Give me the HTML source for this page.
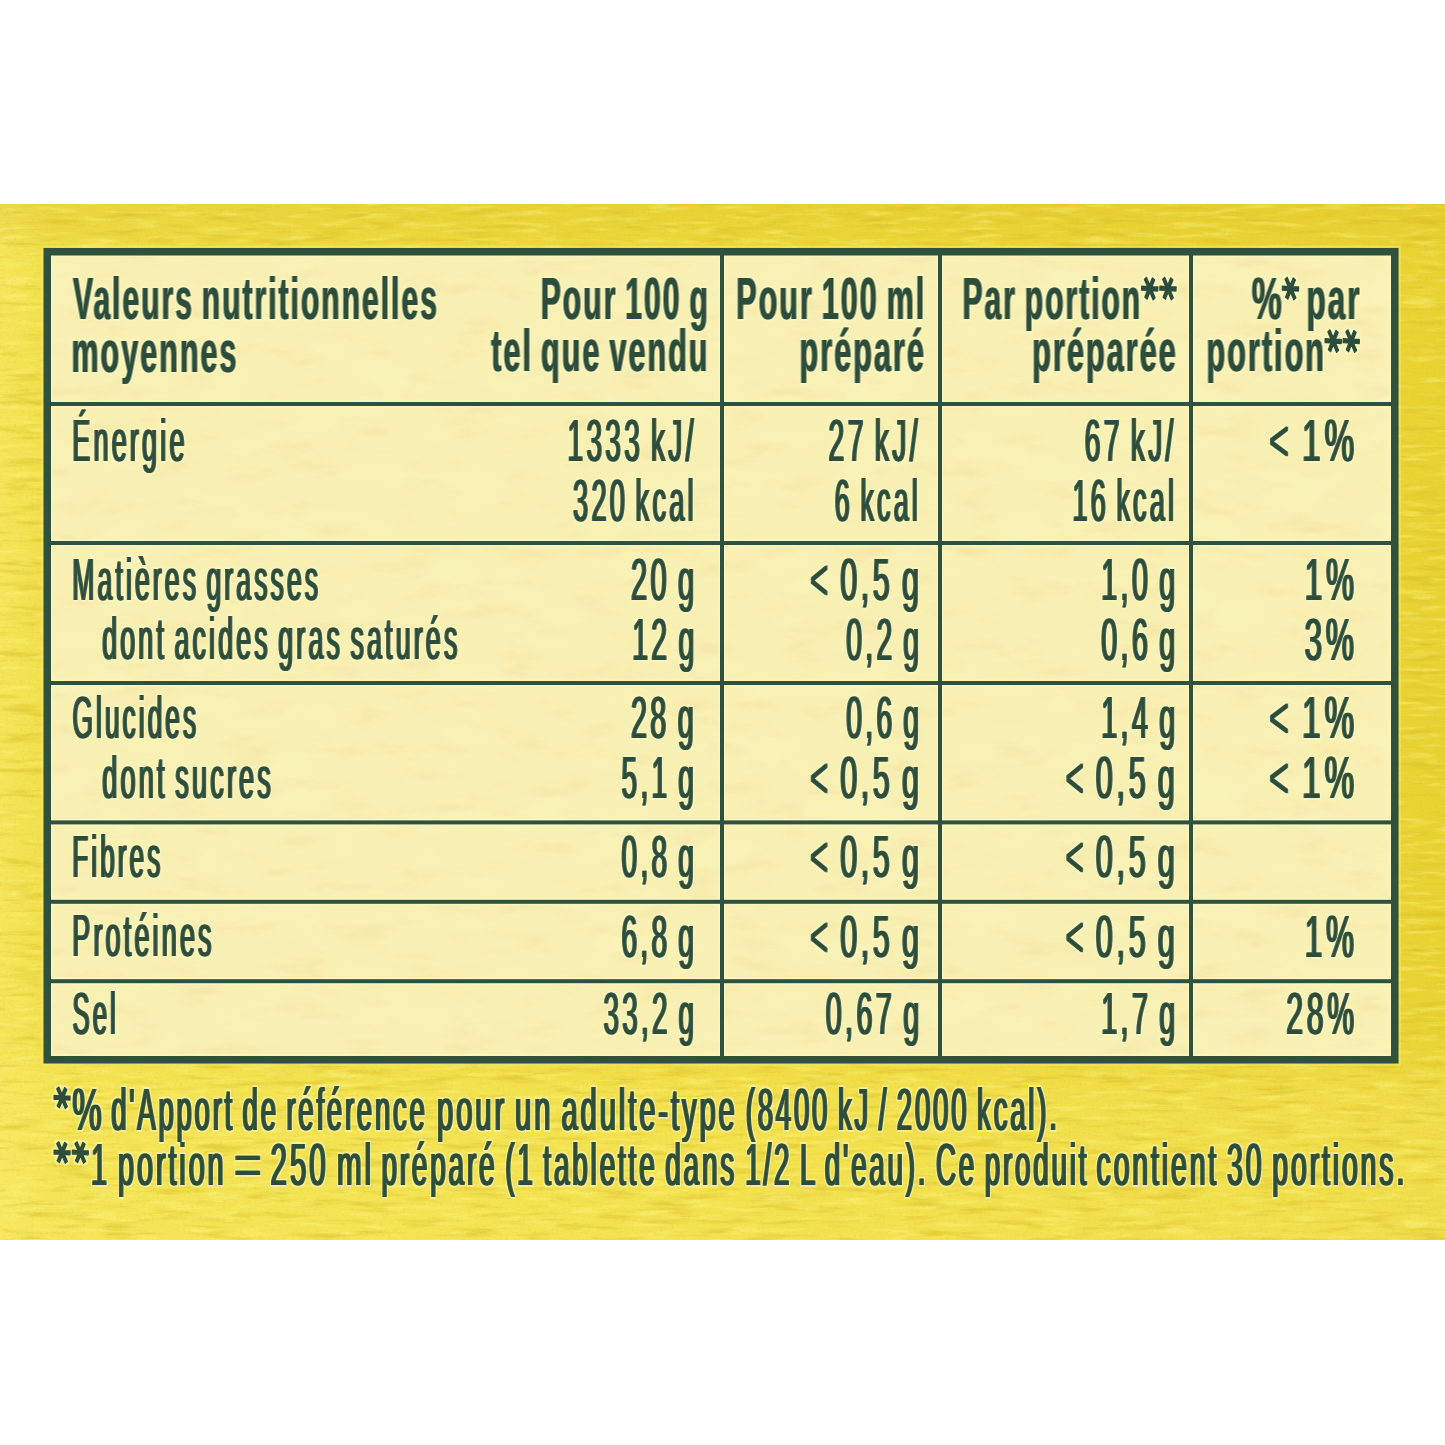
<!DOCTYPE html>
<html lang="fr"><head><meta charset="utf-8"><title>Valeurs nutritionnelles</title>
<style>
html,body{margin:0;padding:0;background:#fff;width:1445px;height:1445px;overflow:hidden}
svg{display:block}
text{font-family:"Liberation Sans",Arial,sans-serif;font-size:59.5px;fill:#2c4d3c;stroke-linejoin:round}
text.ast{font-family:"DejaVu Sans",sans-serif;font-weight:bold;font-size:200px;stroke:#2c4d3c;stroke-width:7px}
</style></head>
<body>
<svg width="1445" height="1445" viewBox="0 0 1445 1445">
<defs>
<linearGradient id="yb" x1="0" y1="0" x2="1" y2="0">
<stop offset="0" stop-color="#f5e55a"/><stop offset="0.035" stop-color="#f0df48"/><stop offset="0.5" stop-color="#eed93a"/><stop offset="0.965" stop-color="#ead434"/><stop offset="1" stop-color="#e8d232"/>
</linearGradient>
<linearGradient id="yv" x1="0" y1="0" x2="0" y2="1">
<stop offset="0" stop-color="#fbef70" stop-opacity="0"/><stop offset="0.8" stop-color="#fbef70" stop-opacity="0"/><stop offset="0.86" stop-color="#fbef70" stop-opacity="0.35"/><stop offset="1" stop-color="#fbef70" stop-opacity="0.4"/>
</linearGradient>
<linearGradient id="yt" x1="0" y1="0" x2="0" y2="1">
<stop offset="0" stop-color="#d9bd24" stop-opacity="0.3"/><stop offset="1" stop-color="#d9bd24" stop-opacity="0"/>
</linearGradient>
<filter id="tx1" x="0" y="0" width="100%" height="100%" color-interpolation-filters="sRGB">
<feTurbulence type="fractalNoise" baseFrequency="0.02 0.16" numOctaves="4" seed="7"/>
<feColorMatrix type="matrix" values="0 0 0 0 0.84  0 0 0 0 0.74  0 0 0 0 0.14  3.6 0 0 0 -1.85"/>
</filter>
<filter id="tx2" x="0" y="0" width="100%" height="100%" color-interpolation-filters="sRGB">
<feTurbulence type="fractalNoise" baseFrequency="0.025 0.18" numOctaves="3" seed="11"/>
<feColorMatrix type="matrix" values="0 0 0 0 1  0 0 0 0 0.97  0 0 0 0 0.55  0 3.4 0 0 -1.75"/>
</filter>
<filter id="tx4" x="0" y="0" width="100%" height="100%" color-interpolation-filters="sRGB">
<feTurbulence type="fractalNoise" baseFrequency="0.35" numOctaves="2" seed="3"/>
<feColorMatrix type="matrix" values="0 0 0 0 0.80  0 0 0 0 0.70  0 0 0 0 0.10  4 0 0 0 -2.2"/>
</filter>
<filter id="tx3" x="0" y="0" width="100%" height="100%" color-interpolation-filters="sRGB">
<feTurbulence type="fractalNoise" baseFrequency="0.018 0.05" numOctaves="4" seed="5"/>
<feColorMatrix type="matrix" values="0 0 0 0 0.91  0 0 0 0 0.83  0 0 0 0 0.58  2.8 0 0 0 -1.45"/>
</filter>
<filter id="tx5" x="0" y="0" width="100%" height="100%" color-interpolation-filters="sRGB">
<feTurbulence type="fractalNoise" baseFrequency="0.012 0.03" numOctaves="3" seed="21"/>
<feColorMatrix type="matrix" values="0 0 0 0 0.99  0 0 0 0 0.97  0 0 0 0 0.78  0 2.6 0 0 -1.35"/>
</filter>
<filter id="fb" x="-1%" y="-1%" width="102%" height="102%" color-interpolation-filters="sRGB">
<feMorphology in="SourceGraphic" operator="dilate" radius="1 0" result="d"/>
<feComponentTransfer in="d" result="d2"><feFuncA type="linear" slope="0.5"/></feComponentTransfer>
<feMorphology in="SourceAlpha" operator="dilate" radius="2" result="h0"/>
<feFlood flood-color="#fcf8c8" flood-opacity="0.5"/>
<feComposite in2="h0" operator="in" result="h"/>
<feMerge><feMergeNode in="h"/><feMergeNode in="d2"/><feMergeNode in="SourceGraphic"/></feMerge>
</filter>
<filter id="fr" x="-1%" y="-1%" width="102%" height="102%" color-interpolation-filters="sRGB">
<feMorphology in="SourceGraphic" operator="dilate" radius="1 0" result="d"/>
<feComponentTransfer in="d" result="d2"><feFuncA type="linear" slope="0.85"/></feComponentTransfer>
<feMorphology in="SourceAlpha" operator="dilate" radius="2" result="h0"/>
<feFlood flood-color="#fcf8c8" flood-opacity="0.5"/>
<feComposite in2="h0" operator="in" result="h"/>
<feMerge><feMergeNode in="h"/><feMergeNode in="d2"/><feMergeNode in="SourceGraphic"/></feMerge>
</filter>
<filter id="fs" x="-1%" y="-1%" width="102%" height="102%" color-interpolation-filters="sRGB">
<feMorphology in="SourceGraphic" operator="dilate" radius="1 0" result="d"/>
<feComponentTransfer in="d" result="d2"><feFuncA type="linear" slope="0.9"/></feComponentTransfer>
<feMorphology in="SourceAlpha" operator="dilate" radius="2" result="h0"/>
<feFlood flood-color="#fcf8c8" flood-opacity="0.5"/>
<feComposite in2="h0" operator="in" result="h"/>
<feMerge><feMergeNode in="h"/><feMergeNode in="d2"/><feMergeNode in="SourceGraphic"/></feMerge>
</filter>
<filter id="fa" x="-1%" y="-1%" width="102%" height="102%" color-interpolation-filters="sRGB">
<feMorphology in="SourceAlpha" operator="dilate" radius="2" result="h0"/>
<feFlood flood-color="#fcf8c8" flood-opacity="0.5"/>
<feComposite in2="h0" operator="in" result="h"/>
<feMerge><feMergeNode in="h"/><feMergeNode in="SourceGraphic"/></feMerge>
</filter>
</defs>
<rect x="0" y="0" width="1445" height="1445" fill="#fff"/>
<rect x="0" y="204" width="1445" height="1036" fill="url(#yb)"/>
<rect x="0" y="204" width="1445" height="1036" fill="url(#yv)"/>
<rect x="0" y="204" width="1445" height="56" fill="url(#yt)"/>
<rect x="0" y="204" width="1445" height="1036" filter="url(#tx1)" opacity="0.45"/>
<rect x="0" y="204" width="1445" height="1036" filter="url(#tx2)" opacity="0.4"/>
<rect x="0" y="204" width="1445" height="1036" filter="url(#tx4)" opacity="0.12"/>
<rect x="47" y="252" width="1348" height="808" fill="#f9f1b3"/>
<rect x="47" y="252" width="1348" height="808" filter="url(#tx3)" opacity="0.3"/>
<rect x="47" y="252" width="1348" height="808" filter="url(#tx5)" opacity="0.35"/>
<g fill="#fcf8c6" opacity="0.75">
<rect x="51" y="255.5" width="1339.5" height="1.6"/>
<rect x="51" y="1054" width="1339.5" height="1.6"/>
<rect x="51" y="255.5" width="1.6" height="800"/>
<rect x="1389" y="255.5" width="1.6" height="800"/>
<rect x="51" y="400.5" width="1340" height="7"/>
<rect x="51" y="539.5" width="1340" height="7"/>
<rect x="51" y="679.5" width="1340" height="7"/>
<rect x="51" y="818.9" width="1340" height="7"/>
<rect x="51" y="898.3" width="1340" height="7"/>
<rect x="51" y="977.7" width="1340" height="7"/>
<rect x="718.5" y="255" width="7" height="801"/>
<rect x="936.5" y="255" width="7" height="801"/>
<rect x="1187.5" y="255" width="7" height="801"/>
</g>
<rect x="42" y="246.5" width="1358" height="818.5" fill="none" stroke="#f4ea6a" stroke-width="1.6" opacity="0.6"/>
<rect x="47.25" y="251.75" width="1347.5" height="808" fill="none" stroke="#2f513e" stroke-width="7.5"/>
<rect x="51" y="402.0" width="1340" height="4" fill="#2f513e"/>
<rect x="51" y="541.0" width="1340" height="4" fill="#2f513e"/>
<rect x="51" y="681.0" width="1340" height="4" fill="#2f513e"/>
<rect x="51" y="820.4" width="1340" height="4" fill="#2f513e"/>
<rect x="51" y="899.8" width="1340" height="4" fill="#2f513e"/>
<rect x="51" y="979.2" width="1340" height="4" fill="#2f513e"/>
<rect x="720.0" y="255" width="4" height="801" fill="#2f513e"/>
<rect x="938.0" y="255" width="4" height="801" fill="#2f513e"/>
<rect x="1189.0" y="255" width="4" height="801" fill="#2f513e"/>
<g class="tx" filter="url(#fb)">
<text x="73.00" y="319.0" textLength="365.91" lengthAdjust="spacingAndGlyphs" font-weight="bold" letter-spacing="4" word-spacing="-5">Valeurs nutritionnelles</text>
<text x="71.45" y="371.5" textLength="167.08" lengthAdjust="spacingAndGlyphs" font-weight="bold" letter-spacing="4" word-spacing="-5">moyennes</text>
<text x="540.78" y="319.0" textLength="169.08" lengthAdjust="spacingAndGlyphs" font-weight="bold" letter-spacing="4" word-spacing="-5">Pour 100 g</text>
<text x="491.29" y="371.0" textLength="218.26" lengthAdjust="spacingAndGlyphs" font-weight="bold" letter-spacing="4" word-spacing="-5">tel que vendu</text>
<text x="736.35" y="318.6" textLength="189.90" lengthAdjust="spacingAndGlyphs" font-weight="bold" letter-spacing="4" word-spacing="-5">Pour 100 ml</text>
<text x="799.55" y="370.8" textLength="126.38" lengthAdjust="spacingAndGlyphs" font-weight="bold" letter-spacing="4" word-spacing="-5">préparé</text>
<text x="962.58" y="318.5" textLength="179.62" lengthAdjust="spacingAndGlyphs" font-weight="bold" letter-spacing="4" word-spacing="-5">Par portion</text>
<text x="1032.35" y="371.3" textLength="145.53" lengthAdjust="spacingAndGlyphs" font-weight="bold" letter-spacing="4" word-spacing="-5">préparée</text>
<text x="1251.77" y="318.7" textLength="32.29" lengthAdjust="spacingAndGlyphs" font-weight="bold" letter-spacing="4" word-spacing="-5">%</text>
<text x="1306.49" y="318.7" textLength="55.13" lengthAdjust="spacingAndGlyphs" font-weight="bold" letter-spacing="4" word-spacing="-5">par</text>
<text x="1206.55" y="371.3" textLength="119.50" lengthAdjust="spacingAndGlyphs" font-weight="bold" letter-spacing="4" word-spacing="-5">portion</text>
</g>
<g class="tx" filter="url(#fr)">
<text x="72.23" y="460.9" textLength="115.46" lengthAdjust="spacingAndGlyphs" letter-spacing="7" word-spacing="-7">Énergie</text>
<text x="72.37" y="599.5" textLength="248.86" lengthAdjust="spacingAndGlyphs" letter-spacing="7" word-spacing="-7">Matières grasses</text>
<text x="102.25" y="659.3" textLength="358.23" lengthAdjust="spacingAndGlyphs" letter-spacing="7" word-spacing="-7">dont acides gras saturés</text>
<text x="72.58" y="738.3" textLength="126.60" lengthAdjust="spacingAndGlyphs" letter-spacing="7" word-spacing="-7">Glucides</text>
<text x="102.23" y="798.1" textLength="171.83" lengthAdjust="spacingAndGlyphs" letter-spacing="7" word-spacing="-7">dont sucres</text>
<text x="72.30" y="876.5" textLength="91.09" lengthAdjust="spacingAndGlyphs" letter-spacing="7" word-spacing="-7">Fibres</text>
<text x="72.23" y="956.3" textLength="142.52" lengthAdjust="spacingAndGlyphs" letter-spacing="7" word-spacing="-7">Protéines</text>
<text x="72.61" y="1034.4" textLength="46.14" lengthAdjust="spacingAndGlyphs" letter-spacing="7" word-spacing="-7">Sel</text>
<text x="567.54" y="460.9" textLength="129.23" lengthAdjust="spacingAndGlyphs" letter-spacing="7" word-spacing="-7">1333 kJ/</text>
<text x="573.09" y="520.7" textLength="123.67" lengthAdjust="spacingAndGlyphs" letter-spacing="7" word-spacing="-7">320 kcal</text>
<text x="630.94" y="599.8" textLength="66.74" lengthAdjust="spacingAndGlyphs" letter-spacing="7" word-spacing="-7">20 g</text>
<text x="632.21" y="659.6" textLength="65.35" lengthAdjust="spacingAndGlyphs" letter-spacing="7" word-spacing="-7">12 g</text>
<text x="630.95" y="738.1" textLength="66.18" lengthAdjust="spacingAndGlyphs" letter-spacing="7" word-spacing="-7">28 g</text>
<text x="621.58" y="797.9" textLength="75.67" lengthAdjust="spacingAndGlyphs" letter-spacing="7" word-spacing="-7">5,1 g</text>
<text x="621.56" y="876.5" textLength="75.70" lengthAdjust="spacingAndGlyphs" letter-spacing="7" word-spacing="-7">0,8 g</text>
<text x="621.38" y="957.0" textLength="75.89" lengthAdjust="spacingAndGlyphs" letter-spacing="7" word-spacing="-7">6,8 g</text>
<text x="603.57" y="1034.3" textLength="93.68" lengthAdjust="spacingAndGlyphs" letter-spacing="7" word-spacing="-7">33,2 g</text>
<text x="828.57" y="461.0" textLength="92.35" lengthAdjust="spacingAndGlyphs" letter-spacing="7" word-spacing="-7">27 kJ/</text>
<text x="834.84" y="520.7" textLength="86.13" lengthAdjust="spacingAndGlyphs" letter-spacing="7" word-spacing="-7">6 kcal</text>
<text x="810.36" y="599.8" textLength="112.09" lengthAdjust="spacingAndGlyphs" letter-spacing="7" word-spacing="-7">&lt; 0,5 g</text>
<text x="846.15" y="659.6" textLength="76.25" lengthAdjust="spacingAndGlyphs" letter-spacing="7" word-spacing="-7">0,2 g</text>
<text x="846.15" y="738.1" textLength="76.25" lengthAdjust="spacingAndGlyphs" letter-spacing="7" word-spacing="-7">0,6 g</text>
<text x="810.36" y="797.9" textLength="112.09" lengthAdjust="spacingAndGlyphs" letter-spacing="7" word-spacing="-7">&lt; 0,5 g</text>
<text x="810.36" y="876.5" textLength="112.09" lengthAdjust="spacingAndGlyphs" letter-spacing="7" word-spacing="-7">&lt; 0,5 g</text>
<text x="810.36" y="957.0" textLength="112.09" lengthAdjust="spacingAndGlyphs" letter-spacing="7" word-spacing="-7">&lt; 0,5 g</text>
<text x="825.63" y="1034.3" textLength="96.90" lengthAdjust="spacingAndGlyphs" letter-spacing="7" word-spacing="-7">0,67 g</text>
<text x="1084.78" y="461.0" textLength="92.03" lengthAdjust="spacingAndGlyphs" letter-spacing="7" word-spacing="-7">67 kJ/</text>
<text x="1072.53" y="520.7" textLength="104.60" lengthAdjust="spacingAndGlyphs" letter-spacing="7" word-spacing="-7">16 kcal</text>
<text x="1101.29" y="599.8" textLength="77.17" lengthAdjust="spacingAndGlyphs" letter-spacing="7" word-spacing="-7">1,0 g</text>
<text x="1101.34" y="659.6" textLength="77.12" lengthAdjust="spacingAndGlyphs" letter-spacing="7" word-spacing="-7">0,6 g</text>
<text x="1101.29" y="738.1" textLength="77.17" lengthAdjust="spacingAndGlyphs" letter-spacing="7" word-spacing="-7">1,4 g</text>
<text x="1065.85" y="797.9" textLength="112.62" lengthAdjust="spacingAndGlyphs" letter-spacing="7" word-spacing="-7">&lt; 0,5 g</text>
<text x="1065.85" y="876.5" textLength="112.62" lengthAdjust="spacingAndGlyphs" letter-spacing="7" word-spacing="-7">&lt; 0,5 g</text>
<text x="1065.85" y="957.0" textLength="112.62" lengthAdjust="spacingAndGlyphs" letter-spacing="7" word-spacing="-7">&lt; 0,5 g</text>
<text x="1101.29" y="1034.3" textLength="77.17" lengthAdjust="spacingAndGlyphs" letter-spacing="7" word-spacing="-7">1,7 g</text>
<text x="1269.21" y="460.8" textLength="89.01" lengthAdjust="spacingAndGlyphs" letter-spacing="7" word-spacing="-7">&lt; 1%</text>
<text x="1304.75" y="599.7" textLength="53.02" lengthAdjust="spacingAndGlyphs" letter-spacing="7" word-spacing="-7">1%</text>
<text x="1304.43" y="659.5" textLength="53.37" lengthAdjust="spacingAndGlyphs" letter-spacing="7" word-spacing="-7">3%</text>
<text x="1269.21" y="738.1" textLength="89.01" lengthAdjust="spacingAndGlyphs" letter-spacing="7" word-spacing="-7">&lt; 1%</text>
<text x="1269.21" y="797.9" textLength="89.01" lengthAdjust="spacingAndGlyphs" letter-spacing="7" word-spacing="-7">&lt; 1%</text>
<text x="1304.75" y="957.0" textLength="53.02" lengthAdjust="spacingAndGlyphs" letter-spacing="7" word-spacing="-7">1%</text>
<text x="1286.37" y="1034.3" textLength="71.25" lengthAdjust="spacingAndGlyphs" letter-spacing="7" word-spacing="-7">28%</text>
</g>
<g class="tx" filter="url(#fs)">
<text x="72.29" y="1129.5" textLength="32.82" lengthAdjust="spacingAndGlyphs" letter-spacing="6" word-spacing="-6">%</text>
<text x="111.21" y="1129.5" textLength="316.36" lengthAdjust="spacingAndGlyphs" letter-spacing="6" word-spacing="-6">d&#x27;Apport de référence</text>
<text x="437.04" y="1129.5" textLength="300.63" lengthAdjust="spacingAndGlyphs" letter-spacing="6" word-spacing="-6">pour un adulte-type</text>
<text x="745.74" y="1129.5" textLength="313.96" lengthAdjust="spacingAndGlyphs" letter-spacing="6" word-spacing="-6">(8400 kJ / 2000 kcal).</text>
<text x="91.08" y="1185.0" textLength="135.46" lengthAdjust="spacingAndGlyphs" letter-spacing="6" word-spacing="-6">1 portion</text>
<text x="233.92" y="1185.0" textLength="32.32" lengthAdjust="spacingAndGlyphs" letter-spacing="6" word-spacing="-6">=</text>
<text x="270.51" y="1185.0" textLength="103.55" lengthAdjust="spacingAndGlyphs" letter-spacing="6" word-spacing="-6">250 ml</text>
<text x="381.42" y="1185.0" textLength="355.63" lengthAdjust="spacingAndGlyphs" letter-spacing="6" word-spacing="-6">préparé (1 tablette dans</text>
<text x="745.27" y="1185.0" textLength="343.89" lengthAdjust="spacingAndGlyphs" letter-spacing="6" word-spacing="-6">1/2 L d&#x27;eau). Ce produit</text>
<text x="1096.57" y="1185.0" textLength="310.60" lengthAdjust="spacingAndGlyphs" letter-spacing="6" word-spacing="-6">contient 30 portions.</text>
</g>
<g class="tx" filter="url(#fa)">
<text class="ast" transform="translate(1149.75,288.35) scale(0.1608,0.2366) rotate(30) translate(-52,102.5)">*</text>
<text class="ast" transform="translate(1168.05,288.35) scale(0.1608,0.2366) rotate(30) translate(-52,102.5)">*</text>
<text class="ast" transform="translate(1290.55,288.30) scale(0.1608,0.2366) rotate(30) translate(-52,102.5)">*</text>
<text class="ast" transform="translate(1333.30,340.85) scale(0.1608,0.2366) rotate(30) translate(-52,102.5)">*</text>
<text class="ast" transform="translate(1351.15,340.85) scale(0.1608,0.2366) rotate(30) translate(-52,102.5)">*</text>
<text class="ast" transform="translate(62.05,1097.55) scale(0.1588,0.2258) rotate(30) translate(-52,102.5)">*</text>
<text class="ast" transform="translate(62.05,1152.35) scale(0.1588,0.2258) rotate(30) translate(-52,102.5)">*</text>
<text class="ast" transform="translate(80.20,1152.35) scale(0.1588,0.2258) rotate(30) translate(-52,102.5)">*</text>
</g>
</svg>
</body></html>
